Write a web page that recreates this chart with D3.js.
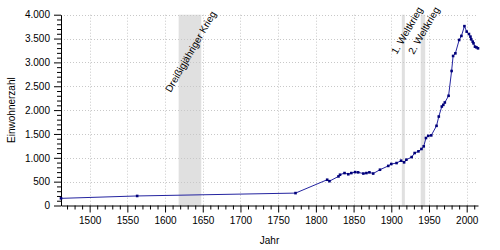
<!DOCTYPE html>
<html><head><meta charset="utf-8">
<script src="https://cdn.jsdelivr.net/npm/d3@7"></script>
<style>body{margin:0;background:#fff}svg{display:block;font-family:"Liberation Sans",Arial,sans-serif}</style>
</head><body><svg id="c" width="500" height="250"></svg>
<script>
const years = [1462,1563,1773,1815,1818,1830,1832,1838,1843,1847,1852,1856,1863,1867,1871,1876,1885,1896,1900,1907,1913,1917,1920,1927,1931,1936,1940,1943,1946,1949,1953,1960,1963,1967,1969,1971,1976,1980,1982,1985,1990,1993,1997,2000,2003,2005,2006,2008,2009,2011,2013,2015];
const population = [150,200,260,540,510,610,645,680,655,680,700,695,670,680,695,670,750,830,870,890,940,905,960,1015,1100,1135,1185,1240,1415,1460,1470,1670,1865,2075,2110,2160,2300,2820,3135,3190,3470,3555,3760,3645,3595,3540,3485,3435,3400,3330,3315,3295];
const eventNames = ["Dreißigjähriger Krieg","1. Weltkrieg","2. Weltkrieg"];
const eventStart = [1618,1914,1939];
const eventEnd = [1648,1918,1945];
const xTicks = [1500,1550,1600,1650,1700,1750,1800,1850,1900,1950,2000];
const yTicks = [0,500,1000,1500,2000,2500,3000,3500,4000];
const xLabel = "Jahr", yLabel = "Einwohnerzahl";

const svg = d3.select("#c");
const L=61,R=478,T=14.7,B=205.5;
const x = d3.scaleLinear().domain([1462,2015]).range([L,R]);
const y = d3.scaleLinear().domain([0,4000]).range([B,T]);
const fmt = v => d3.format(",")(v).replace(/,/g,".");

// bands
const bandG = svg.append("g");
eventNames.forEach((n,i)=>{
  bandG.append("rect").attr("x",x(eventStart[i])).attr("y",T).attr("width",x(eventEnd[i])-x(eventStart[i])).attr("height",B-T).attr("fill","#e0e0e0");
});
// grid
const grid = svg.append("g").attr("stroke","#c8c8c8").attr("stroke-dasharray","1,2").attr("stroke-width",1);
xTicks.forEach(t=>grid.append("line").attr("x1",Math.round(x(t))+0.5).attr("x2",Math.round(x(t))+0.5).attr("y1",T).attr("y2",B));
yTicks.filter(t=>t>0).forEach(t=>grid.append("line").attr("x1",L).attr("x2",R).attr("y1",Math.round(y(t))+0.5).attr("y2",Math.round(y(t))+0.5));

// event labels
const labOff = [[-8,93],[-5,55],[-7,55]];
eventNames.forEach((n,i)=>{
  const px = x(eventStart[i])+labOff[i][0], py = labOff[i][1];
  svg.append("text").attr("transform",`translate(${px},${py}) rotate(-60)`).attr("font-size",10).attr("fill","#000").text(n);
});

// axes
const minorX = d3.range(1470,2011,10).filter(v=>v%50);
const minorY = d3.range(100,4000,100).filter(v=>v%500);
const ax = svg.append("g").attr("transform",`translate(0,${B})`);
ax.call(d3.axisBottom(x).tickValues(minorX).tickSize(4).tickFormat(""));
ax.call(g=>g.select(".domain").remove());
const ax2 = svg.append("g").attr("transform",`translate(0,${B})`).call(d3.axisBottom(x).tickValues(xTicks).tickSize(7).tickSizeOuter(0).tickPadding(4).tickFormat(d3.format("d")));
const ay = svg.append("g").attr("transform",`translate(${L},0)`);
ay.call(d3.axisLeft(y).tickValues(minorY).tickSize(4).tickFormat(""));
ay.call(g=>g.select(".domain").remove());
const ay2 = svg.append("g").attr("transform",`translate(${L},0)`).call(d3.axisLeft(y).tickValues(yTicks).tickSize(7).tickSizeOuter(0).tickPadding(4).tickFormat(fmt));
svg.selectAll(".tick text").attr("font-size",10).attr("font-family","Liberation Sans, Arial, sans-serif").attr("fill","#000");
svg.selectAll(".domain, .tick line").attr("stroke","#000");

// line
const pts = years.map((yr,i)=>[yr,population[i]]);
svg.append("path").datum(pts).attr("fill","none").attr("stroke","#2424a0").attr("stroke-width",1)
  .attr("d",d3.line().x(d=>x(d[0])).y(d=>y(d[1])));
svg.append("g").selectAll("rect").data(pts).join("rect")
  .attr("x",d=>x(d[0])-1.3).attr("y",d=>y(d[1])-1.3).attr("width",2.6).attr("height",2.6).attr("fill","#00007a");

svg.append("text").attr("x",(L+R)/2).attr("y",243.5).attr("text-anchor","middle").attr("font-size",10).text(xLabel);
svg.append("text").attr("transform",`translate(15,${(T+B)/2}) rotate(-90)`).attr("text-anchor","middle").attr("font-size",10).text(yLabel);
</script></body></html>
